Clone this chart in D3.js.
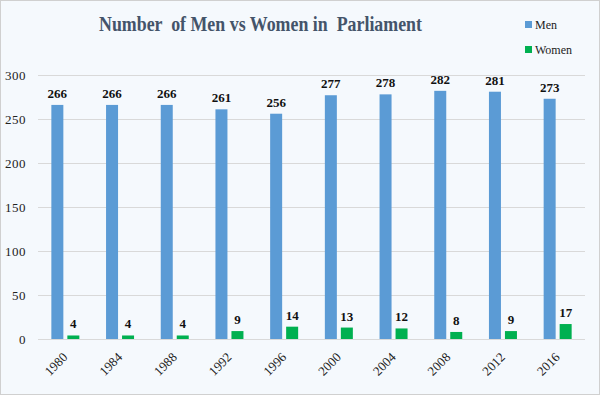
<!DOCTYPE html>
<html><head><meta charset="utf-8">
<script src="https://cdn.jsdelivr.net/npm/d3@7"></script>
<style>html,body{margin:0;padding:0;background:#fff;}
svg text{font-family:"Liberation Serif","Times New Roman","DejaVu Serif",serif;}
</style>
</head><body>
<svg id="c" width="600" height="395"></svg>
<script>
const years = ["1980","1984","1988","1992","1996","2000","2004","2008","2012","2016"];
const men = [266,266,266,261,256,277,278,282,281,273];
const women = [4,4,4,9,14,13,12,8,9,17];
const yTicks = [0,50,100,150,200,250,300];
const seriesNames = ["Men","Women"];
const colors = ["#5b9bd5","#00b050"];

(function(){
const svg = d3.select("#c");
svg.append("rect").attr("x",0.5).attr("y",0.5).attr("width",599).attr("height",394)
  .attr("fill","#f5f9fd").attr("stroke","#d0d0d0");

const pL = 38, pR = 585, pT = 75, pB = 339;
const x = d3.scaleBand().domain(years).range([pL,pR]).paddingInner(0).paddingOuter(0);
const y = d3.scaleLinear().domain([0,300]).range([pB,pT]);

svg.append("g").selectAll("line").data(yTicks).join("line")
  .attr("x1",pL).attr("x2",pR)
  .attr("y1",d=>y(d)+0.5).attr("y2",d=>y(d)+0.5)
  .attr("stroke","#d9d9d9").attr("stroke-width",1);

const yAxis = d3.axisLeft(y).tickValues(yTicks).tickSize(0).tickPadding(0);
const ya = svg.append("g").attr("transform",`translate(${pL-12},0)`).call(yAxis);
ya.select(".domain").remove();
ya.attr("font-family",null);
ya.selectAll("text").attr("font-size",13).attr("fill","#222")
  .attr("dy","0.35em").attr("letter-spacing","0.5");

const xAxis = d3.axisBottom(x).tickSize(0);
const xa = svg.append("g").attr("transform",`translate(0,${pB})`).call(xAxis);
xa.select(".domain").remove();
xa.attr("font-family",null);
xa.selectAll("text").attr("font-size",13).attr("fill","#222")
  .attr("text-anchor","end").attr("dy",0).attr("y",0)
  .attr("transform","translate(3,19) rotate(-45)");

const bw = 12, gap = 4;
const data = years.map((yr,i)=>({yr, vals:[men[i],women[i]]}));
const g = svg.append("g");
data.forEach(d=>{
  const c = x(d.yr) + x.bandwidth()/2;
  d.vals.forEach((v,k)=>{
    const bx = c - (bw + gap/2) + k*(bw+gap);
    g.append("rect").attr("x",bx).attr("y",y(v)).attr("width",bw).attr("height",pB-y(v))
      .attr("fill",colors[k]);
    g.append("text").attr("x",bx+bw/2).attr("y",y(v)-7)
      .attr("text-anchor","middle").attr("font-weight","bold")
      .attr("font-size",13).attr("fill","#111").text(v);
  });
});

svg.append("text").attr("x",99).attr("y",31).attr("text-anchor","start")
  .attr("font-weight","bold").attr("font-size",21).style("white-space","pre")
  .attr("textLength",323).attr("lengthAdjust","spacingAndGlyphs")
  .attr("fill","#44546a").text("Number  of Men vs Women in  Parliament");

const lg = svg.append("g");
seriesNames.forEach((s,i)=>{
  const ly = 25 + i*25;
  lg.append("rect").attr("x",525).attr("y",ly-4).attr("width",7).attr("height",7).attr("fill",colors[i]);
  lg.append("text").attr("x",535).attr("y",ly+4).attr("font-size",12)
    .attr("fill","#222").text(s);
});
})();
</script>
</body></html>
